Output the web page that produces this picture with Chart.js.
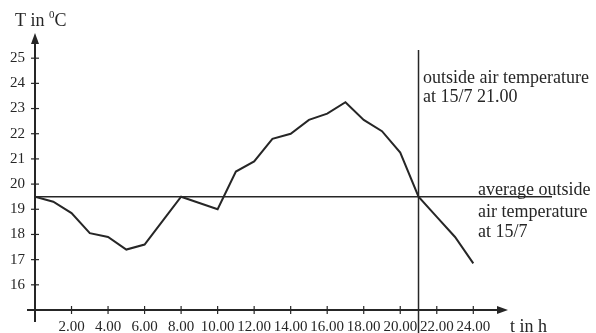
<!DOCTYPE html>
<html>
<head>
<meta charset="utf-8">
<script src="https://cdn.jsdelivr.net/npm/chart.js@4/dist/chart.umd.min.js"></script>
<style>
  body { margin: 0; background: #fff; }
  canvas { display: block; }
</style>
</head>
<body>
<canvas id="tempChart" width="596" height="333"></canvas>
<script>
const hours = [0, 1, 2, 3, 4, 5, 6, 7, 8, 9, 10, 11, 12, 13, 14, 15, 16, 17, 18, 19, 20, 21, 22, 23, 24];
const temps = [19.5, 19.3, 18.85, 18.05, 17.9, 17.4, 17.6, 18.55, 19.5, 19.25, 19.0, 20.5, 20.9, 21.8, 22.0, 22.55, 22.8, 23.25, 22.55, 22.1, 21.25, 19.5, 18.7, 17.9, 16.85];
const xTicks = [2, 4, 6, 8, 10, 12, 14, 16, 18, 20, 22, 24];
const yTicks = [16, 17, 18, 19, 20, 21, 22, 23, 24, 25];
const averageTemp = 19.5;
const markerHour = 21;

const ink = '#262626';
const serif = "'Liberation Serif', 'DejaVu Serif', serif";

// axes with arrows, reference lines and the labels around them
const sketchPlugin = {
    id: 'sketch',
    afterDraw(chart) {
        const ctx = chart.ctx;
        const xs = chart.scales.x, ys = chart.scales.y;
        const x0 = xs.getPixelForValue(0);
        const y0 = ys.getPixelForValue(15);
        const xEnd = xs.getPixelForValue(xs.max);
        const yEnd = ys.getPixelForValue(ys.max);
        ctx.save();
        ctx.strokeStyle = ink;
        ctx.fillStyle = ink;

        // y axis
        ctx.lineWidth = 2;
        ctx.beginPath();
        ctx.moveTo(x0, 322);
        ctx.lineTo(x0, yEnd + 8);
        ctx.stroke();
        ctx.beginPath();
        ctx.moveTo(x0, yEnd);
        ctx.lineTo(x0 - 4, yEnd + 11);
        ctx.lineTo(x0 + 4, yEnd + 11);
        ctx.closePath();
        ctx.fill();

        // x axis
        ctx.beginPath();
        ctx.moveTo(27, y0);
        ctx.lineTo(xEnd - 8, y0);
        ctx.stroke();
        ctx.beginPath();
        ctx.moveTo(xEnd, y0);
        ctx.lineTo(xEnd - 11, y0 - 4);
        ctx.lineTo(xEnd - 11, y0 + 4);
        ctx.closePath();
        ctx.fill();

        // tick marks
        ctx.lineWidth = 1.2;
        yTicks.forEach(v => {
            const y = ys.getPixelForValue(v);
            ctx.beginPath();
            ctx.moveTo(x0 - 4, y);
            ctx.lineTo(x0 + 4, y);
            ctx.stroke();
        });
        xTicks.forEach(v => {
            const x = xs.getPixelForValue(v);
            ctx.beginPath();
            ctx.moveTo(x, y0 - 4);
            ctx.lineTo(x, y0 + 4);
            ctx.stroke();
        });

        // average line and 21.00 marker
        ctx.lineWidth = 1.5;
        const ya = ys.getPixelForValue(averageTemp);
        ctx.beginPath();
        ctx.moveTo(x0, ya);
        ctx.lineTo(552, ya);
        ctx.stroke();
        const xm = xs.getPixelForValue(markerHour);
        ctx.beginPath();
        ctx.moveTo(xm, 50);
        ctx.lineTo(xm, 333);
        ctx.stroke();

        // texts
        ctx.textBaseline = 'middle';
        ctx.textAlign = 'left';
        ctx.font = '18px ' + serif;
        ctx.fillText('T in ', 15, 21);
        let w = ctx.measureText('T in ').width;
        ctx.font = '11px ' + serif;
        ctx.fillText('0', 15 + w, 15);
        let w2 = ctx.measureText('0').width;
        ctx.font = '18px ' + serif;
        ctx.fillText('C', 15 + w + w2, 21);

        ctx.fillText('t in h', 510, 327);

        ctx.fillText('outside air temperature', 423, 78);
        ctx.fillText('at 15/7 21.00', 423, 97);
        ctx.textBaseline = 'alphabetic';
        ctx.fillText('average outside', 478, 195);
        ctx.textBaseline = 'middle';
        ctx.fillText('air temperature', 478, 212);
        ctx.fillText('at 15/7', 478, 232);
        ctx.restore();
    }
};

new Chart(document.getElementById('tempChart'), {
    type: 'line',
    data: {
        datasets: [{
            data: hours.map((h, i) => ({ x: h, y: temps[i] })),
            borderColor: ink,
            borderWidth: 2,
            pointRadius: 0,
            tension: 0
        }]
    },
    options: {
        responsive: false,
        animation: false,
        layout: { padding: { left: 0, top: 33, right: 88, bottom: 0 } },
        plugins: { legend: { display: false }, tooltip: { enabled: false } },
        scales: {
            x: {
                type: 'linear',
                min: 0,
                max: 25.9,
                afterBuildTicks: s => { s.ticks = xTicks.map(v => ({ value: v })); },
                afterFit: s => { s.height = 23; },
                grid: { display: false },
                border: { display: false },
                ticks: {
                    autoSkip: false,
                    maxRotation: 0,
                    padding: 0,
                    color: ink,
                    font: { family: serif, size: 15 },
                    callback: v => v.toFixed(2)
                }
            },
            y: {
                min: 15,
                max: 26,
                afterBuildTicks: s => { s.ticks = yTicks.map(v => ({ value: v })); },
                afterFit: s => { s.width = 35; },
                grid: { display: false },
                border: { display: false },
                ticks: {
                    padding: 2,
                    color: ink,
                    font: { family: serif, size: 15 }
                }
            }
        }
    },
    plugins: [sketchPlugin]
});
</script>
</body>
</html>
